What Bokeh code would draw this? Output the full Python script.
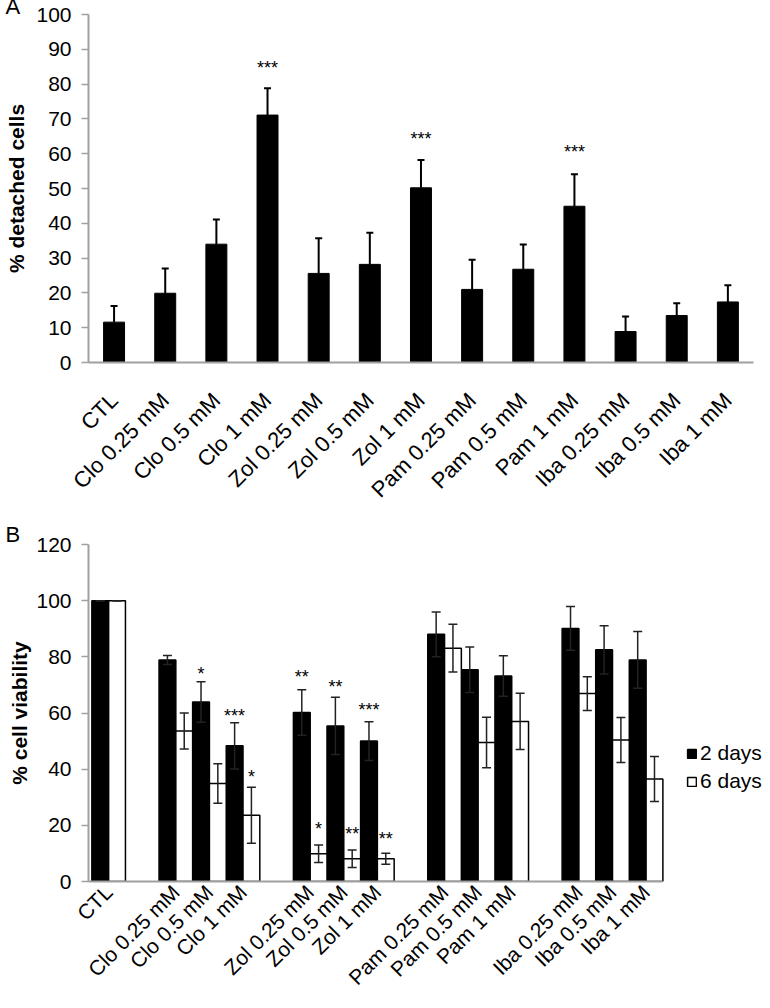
from math import pi
from bokeh.plotting import figure
from bokeh.models import (ColumnDataSource, Range1d, FixedTicker, SingleIntervalTicker,
                          Whisker, TeeHead, Legend, LegendItem)
from bokeh.layouts import column
from bokeh.core.properties import value
from bokeh.embed import file_html
from bokeh.resources import INLINE

FONT = "Liberation Sans"
GRAY = "#a0a0a0"

# ---------------- Panel A data ----------------
a_labels = ["CTL", "Clo 0.25 mM", "Clo 0.5 mM", "Clo 1 mM",
            "Zol 0.25 mM", "Zol 0.5 mM", "Zol 1 mM",
            "Pam 0.25 mM", "Pam 0.5 mM", "Pam 1 mM",
            "Iba 0.25 mM", "Iba 0.5 mM", "Iba 1 mM"]
a_values = [11.6, 19.9, 34.0, 71.1, 25.6, 28.2, 50.2, 21.0, 26.8, 44.9, 8.9, 13.5, 17.4]
a_errors = [4.6, 7.1, 7.1, 7.7, 10.1, 9.1, 8.0, 8.5, 7.1, 9.2, 4.3, 3.5, 4.8]
a_star_labels = ["Clo 1 mM", "Zol 1 mM", "Pam 1 mM"]
a_star_text = ["***", "***", "***"]
a_star_y = [84.5, 64.3, 60.5]

# ---------------- Panel B data ----------------
b_groups = [["CTL"],
            ["Clo 0.25 mM", "Clo 0.5 mM", "Clo 1 mM"],
            ["Zol 0.25 mM", "Zol 0.5 mM", "Zol 1 mM"],
            ["Pam 0.25 mM", "Pam 0.5 mM", "Pam 1 mM"],
            ["Iba 0.25 mM", "Iba 0.5 mM", "Iba 1 mM"]]
b_2days = [100, 78.9, 63.9, 48.3, 60.2, 55.4, 50.0, 88.0, 75.4, 73.2, 90.1, 82.5, 78.9]
b_2days_err = [0, 1.6, 7.2, 8.2, 8.1, 10.2, 6.9, 8.0, 8.1, 7.2, 7.8, 8.6, 10.1]
b_6days = [100, 53.6, 34.9, 23.6, 9.9, 8.1, 8.1, 83.1, 49.5, 57.0, 66.9, 50.4, 36.5]
b_6days_err = [0, 6.4, 7.0, 10.0, 3.1, 3.1, 2.0, 8.5, 9.0, 10.0, 6.0, 8.0, 8.0]
b_series = ["2 days", "6 days"]
# significance marks: (category, series, text, y)
b_star_cat = ["Clo 0.5 mM", "Clo 1 mM", "Clo 1 mM", "Zol 0.25 mM", "Zol 0.25 mM",
              "Zol 0.5 mM", "Zol 0.5 mM", "Zol 1 mM", "Zol 1 mM"]
b_star_series = ["2 days", "2 days", "6 days", "2 days", "6 days",
                 "2 days", "6 days", "2 days", "6 days"]
b_star_text = ["*", "***", "*", "**", "*", "**", "**", "***", "**"]
b_star_y = [74.0, 59.1, 37.2, 72.9, 18.6, 69.2, 16.8, 61.2, 15.0]

# layout constants (pixels)
FIG_W = 768
LEFT = 88
FRAME_W = FIG_W - LEFT
SLOT_A = 51.15   # width of one category in panel A
SLOT_B = 33.59   # width of one bar pair in panel B


def style(p, ylabel, interval, letter, label_standoff):
    p.grid.visible = False
    p.outline_line_color = None
    p.background_fill_color = "white"
    p.border_fill_color = "white"
    for ax in (p.xaxis[0], p.yaxis[0]):
        ax.axis_line_color = GRAY
        ax.axis_line_width = 2
        ax.major_label_text_font = FONT
        ax.major_label_text_font_size = "21px"
        ax.major_label_text_color = "black"
        ax.minor_tick_line_color = None
    p.yaxis.ticker = SingleIntervalTicker(interval=interval)
    p.yaxis.major_tick_out = 7
    p.yaxis.major_tick_in = 0
    p.yaxis.major_tick_line_color = GRAY
    p.yaxis.major_tick_line_width = 1.5
    p.yaxis.major_label_standoff = 10
    p.yaxis.axis_label = ylabel
    p.yaxis.axis_label_text_font = FONT
    p.yaxis.axis_label_text_font_size = "21px"
    p.yaxis.axis_label_text_font_style = "bold"
    p.yaxis.axis_label_text_color = "black"
    p.yaxis.axis_label_standoff = label_standoff
    p.xaxis.major_tick_line_color = None
    p.xaxis.major_tick_out = 0
    p.xaxis.major_tick_in = 0
    p.xaxis.major_label_orientation = pi / 4
    # panel letter as the figure title, pushed to the left edge
    p.title.text = letter
    p.title.align = "left"
    p.title.offset = -83
    p.title.text_font = FONT
    p.title.text_font_size = "22px"
    p.title.text_font_style = "normal"
    p.title.text_color = "black"


def set_title_standoff(p, s):
    try:
        p.title.standoff = s
    except Exception:
        p.title.standoff = 0


# ---------------- Panel A ----------------
na = len(a_labels)
xa = list(range(na))
src_a = ColumnDataSource(dict(x=xa, top=a_values,
                              upper=[v + e for v, e in zip(a_values, a_errors)],
                              lower=a_values))
xa0 = -0.5
pA = figure(width=FIG_W, height=522, x_range=Range1d(xa0, xa0 + FRAME_W / SLOT_A),
            y_range=Range1d(0, 100), output_backend="svg", toolbar_location=None,
            min_border_left=LEFT, min_border_right=0, min_border_top=0, min_border_bottom=160)
pA.vbar(x="x", top="top", bottom=0, width=0.41, source=src_a,
        fill_color="black", line_color="black")
pA.add_layout(Whisker(base="x", upper="upper", lower="lower", source=src_a,
                      line_color="black", line_width=2, level="overlay",
                      upper_head=TeeHead(size=7, line_color="black", line_width=2),
                      lower_head=None))
sa = ColumnDataSource(dict(x=[a_labels.index(c) for c in a_star_labels], y=a_star_y, t=a_star_text))
pA.text(x="x", y="y", text="t", source=sa, text_font=value(FONT), text_font_size="18px",
        text_align="center", text_baseline="middle", text_color="black")
style(pA, "% detached cells", 10, "A", 5)
pA.title.vertical_align = "top"
set_title_standoff(pA, -13)
pA.xaxis.bounds = (xa0, na - 0.5)
pA.xaxis.ticker = FixedTicker(ticks=xa)
pA.xaxis.major_label_overrides = {t: lab for t, lab in zip(xa, a_labels)}
pA.xaxis.major_label_standoff = 34
pA.xaxis.major_label_text_font_size = "22px"

# ---------------- Panel B ----------------
b_labels, b_slots = [], []
slot = 0
for g in b_groups:
    for c in g:
        b_labels.append(c)
        b_slots.append(slot)
        slot += 1
    slot += 1
nslots = b_slots[-1] + 1

x2 = [s - 0.25 for s in b_slots]
x6 = [s + 0.25 for s in b_slots]
src2 = ColumnDataSource(dict(x=x2, top=b_2days,
                             upper=[v + e for v, e in zip(b_2days, b_2days_err)],
                             lower=[v - e for v, e in zip(b_2days, b_2days_err)]))
src6 = ColumnDataSource(dict(x=x6, top=b_6days,
                             upper=[v + e for v, e in zip(b_6days, b_6days_err)],
                             lower=[v - e for v, e in zip(b_6days, b_6days_err)]))

xb0 = -0.6
# the frame also holds the legend area to the right of the last group
pB = figure(width=FIG_W, height=486, x_range=Range1d(xb0, xb0 + FRAME_W / SLOT_B),
            y_range=Range1d(0, 120), output_backend="svg", toolbar_location=None,
            min_border_left=LEFT, min_border_right=0, min_border_top=0, min_border_bottom=127)
r2 = pB.vbar(x="x", top="top", bottom=0, width=0.5, source=src2,
             fill_color="black", line_color="black", line_width=1.5)
r6 = pB.vbar(x="x", top="top", bottom=0, width=0.5, source=src6,
             fill_color="white", line_color="black", line_width=1.5)
for s in (src2, src6):
    pB.add_layout(Whisker(base="x", upper="upper", lower="lower", source=s,
                          line_color="#222222", line_width=1.5, level="overlay",
                          upper_head=TeeHead(size=9, line_color="#222222", line_width=1.5),
                          lower_head=TeeHead(size=9, line_color="#222222", line_width=1.5)))
sbx = []
for c, ser in zip(b_star_cat, b_star_series):
    s = b_slots[b_labels.index(c)]
    sbx.append(s - 0.25 if ser == b_series[0] else s + 0.25)
sb = ColumnDataSource(dict(x=sbx, y=b_star_y, t=b_star_text))
pB.text(x="x", y="y", text="t", source=sb, text_font=value(FONT), text_font_size="18px",
        text_align="center", text_baseline="middle", text_color="black")
style(pB, "% cell viability", 20, "B", 2)
set_title_standoff(pB, -5)
pB.xaxis.bounds = (xb0, nslots - 0.5)
pB.xaxis.ticker = FixedTicker(ticks=b_slots)
pB.xaxis.major_label_overrides = {t: lab for t, lab in zip(b_slots, b_labels)}
pB.xaxis.major_label_standoff = 7
legend = Legend(items=[LegendItem(label=b_series[0], renderers=[r2]),
                       LegendItem(label=b_series[1], renderers=[r6])],
                location=(598, 88), padding=0, margin=0, spacing=4,
                glyph_width=11, glyph_height=11, label_standoff=3,
                label_text_font=FONT, label_text_font_size="21px", label_text_color="black",
                border_line_color=None, background_fill_alpha=0)
pB.add_layout(legend)

layout = column(pA, pB, spacing=0)
open("out.html", "w").write(file_html(layout, INLINE))
